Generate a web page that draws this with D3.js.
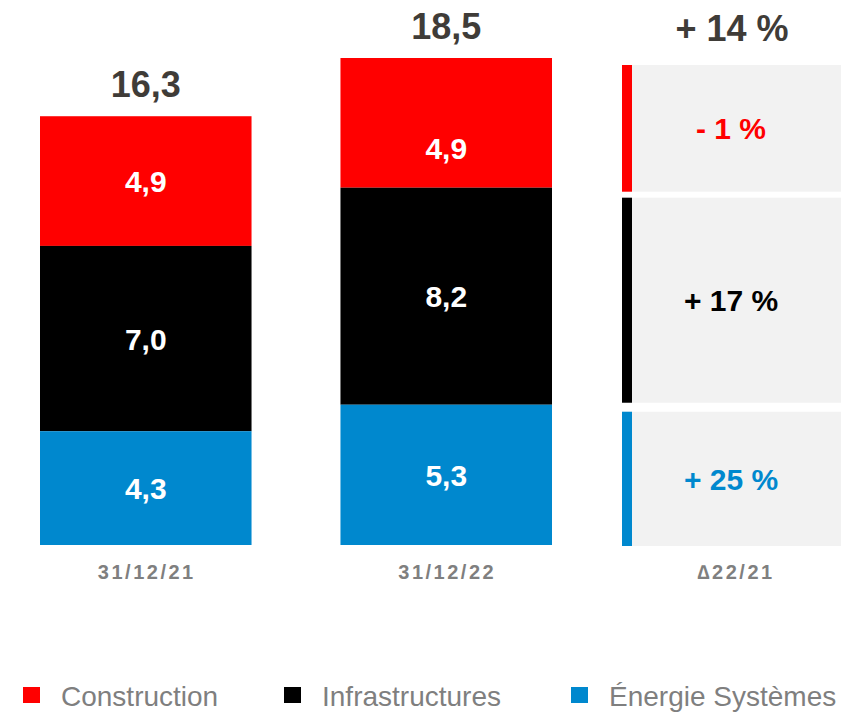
<!DOCTYPE html>
<html lang="fr">
<head>
<meta charset="utf-8">
<script src="https://d3js.org/d3.v7.min.js"></script>
<style>
  body { margin: 0; background: #fff; }
  svg { display: block; font-family: "Liberation Sans", Arial, sans-serif; }
</style>
</head>
<body>
<div id="chart"></div>
<script>
// data
const periods = ["31/12/21", "31/12/22"];
const deltaLabel = "\u220622/21";
const segments = ["Construction", "Infrastructures", "\u00c9nergie Syst\u00e8mes"];
const values2021 = [4.9, 7.0, 4.3];
const values2022 = [4.9, 8.2, 5.3];
const totals = ["16,3", "18,5"];
const totalDelta = "+ 14 %";
const deltas = ["- 1 %", "+ 17 %", "+ 25 %"];
const colors = ["#ff0000", "#000000", "#0088ce"];
const deltaColors = ["#ff0000", "#000000", "#0088ce"];

const width = 844, height = 714;
const svg = d3.select("#chart").append("svg")
  .attr("width", width)
  .attr("height", height);

// scales
const x = d3.scaleBand()
  .domain(periods)
  .range([40, 552])
  .paddingInner(0.296)
  .paddingOuter(0);

const y = d3.scaleLinear()
  .domain([0, d3.sum(values2022)])
  .range([545, 58]);

const fmt = v => d3.format(".1f")(v).replace(".", ",");

// stack the segments bottom-up : blue, black, red
const stackOrder = [2, 1, 0];
function stackFor(vals) {
  let acc = 0;
  const out = [];
  stackOrder.forEach(i => {
    out[i] = { i: i, v: vals[i], y0: acc, y1: acc + vals[i] };
    acc += vals[i];
  });
  return out;
}
const stacks = [stackFor(values2021), stackFor(values2022)];

// bars
stacks.forEach((st, p) => {
  const g = svg.append("g");
  g.selectAll("rect")
    .data(st)
    .enter()
    .append("rect")
    .attr("x", x(periods[p]))
    .attr("width", x.bandwidth())
    .attr("y", d => y(d.y1))
    .attr("height", d => y(d.y0) - y(d.y1))
    .attr("fill", d => colors[d.i]);

  // the top label of the 2022 bar sits lower in the original slide
  g.selectAll("text.seg")
    .data(st)
    .enter()
    .append("text")
    .attr("class", "seg")
    .attr("x", x(periods[p]) + x.bandwidth() / 2)
    .attr("y", d => (y(d.y0) + y(d.y1)) / 2 + 11 + (p === 1 && d.i === 0 ? 25 : 0))
    .attr("text-anchor", "middle")
    .attr("fill", "#fff")
    .style("font-size", "30px")
    .style("font-weight", "bold")
    .text(d => fmt(d.v));

  // total on top
  const top = d3.sum(st, d => d.v);
  svg.append("text")
    .attr("x", x(periods[p]) + x.bandwidth() / 2)
    .attr("y", y(top) - 19)
    .attr("text-anchor", "middle")
    .attr("fill", "#3f3c38")
    .style("font-size", "36px")
    .style("font-weight", "bold")
    .text(totals[p]);

  // category label
  svg.append("text")
    .attr("x", x(periods[p]) + x.bandwidth() / 2 + 1)
    .attr("y", 579)
    .attr("text-anchor", "middle")
    .attr("fill", "#7f7f7f")
    .style("font-size", "20px")
    .style("font-weight", "bold")
    .style("letter-spacing", "2.5px")
    .text(periods[p]);
});

// delta panels, aligned on the 2022 segments
const panelX = 622, panelW = 219, stripW = 10;
const st22 = stacks[1];
const panels = svg.append("g");
st22.forEach(d => {
  const top = y(d.y1) + (d.i === 1 ? 10 : 7);
  const bottom = d.y0 === 0 ? y(0) + 1 : y(d.y0) + (d.i === 0 ? 4 : -2);
  panels.append("rect")
    .attr("x", panelX)
    .attr("y", top)
    .attr("width", panelW)
    .attr("height", bottom - top)
    .attr("fill", "#f2f2f2");
  panels.append("rect")
    .attr("x", panelX)
    .attr("y", top)
    .attr("width", stripW)
    .attr("height", bottom - top)
    .attr("fill", colors[d.i]);
  panels.append("text")
    .attr("x", 731)
    .attr("y", (top + bottom) / 2 + 11)
    .attr("text-anchor", "middle")
    .attr("fill", deltaColors[d.i])
    .style("font-size", "30px")
    .style("font-weight", "bold")
    .text(deltas[d.i]);
});

svg.append("text")
  .attr("x", 732)
  .attr("y", y(d3.sum(values2022)) - 17)
  .attr("text-anchor", "middle")
  .attr("fill", "#3f3c38")
  .style("font-size", "36px")
  .style("font-weight", "bold")
  .text(totalDelta);

svg.append("text")
  .attr("x", 736)
  .attr("y", 579)
  .attr("text-anchor", "middle")
  .attr("fill", "#7f7f7f")
  .style("font-size", "20px")
  .style("font-weight", "bold")
  .style("letter-spacing", "2.5px")
  .text(deltaLabel);

// legend
const legendX = [23, 284, 571];
const legend = svg.append("g");
segments.forEach((s, i) => {
  legend.append("rect")
    .attr("x", legendX[i])
    .attr("y", 687)
    .attr("width", 17)
    .attr("height", 16)
    .attr("fill", colors[i]);
  legend.append("text")
    .attr("x", legendX[i] + 38)
    .attr("y", 706)
    .attr("fill", "#7f7f7f")
    .style("font-size", "28px")
    .text(s);
});
</script>
</body>
</html>
